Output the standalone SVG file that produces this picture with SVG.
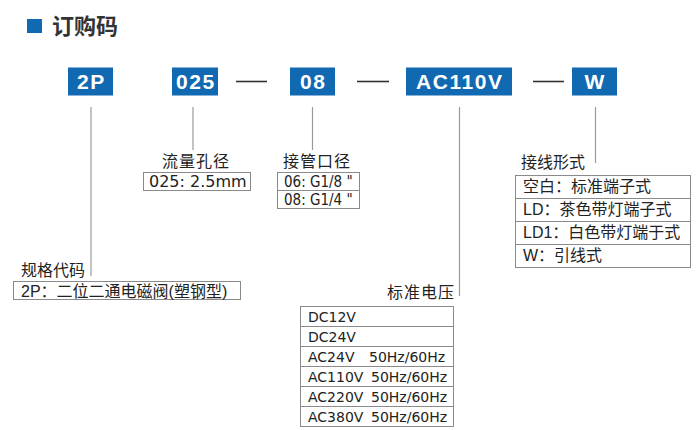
<svg xmlns="http://www.w3.org/2000/svg" width="700" height="430" viewBox="0 0 700 430">
<style>
.bg{fill:#fff}
.code rect{fill:#1169b2}
.code text{fill:#fff;font-family:"Liberation Sans",Arial,sans-serif;font-weight:bold;font-size:21px;letter-spacing:1.6px;text-anchor:middle}
.lead{stroke:#9a9a9a;stroke-width:1.2;fill:none}
.dash{stroke:#333;stroke-width:1.6}
.box{fill:#fff;stroke:#8a8a8a;stroke-width:1}
.lbl{fill:#222;font-family:"Noto Sans CJK SC","Noto Sans",sans-serif;font-size:16px}
.opt{fill:#222;font-family:"Liberation Sans","Noto Sans CJK SC",sans-serif;font-size:16px}
.num{fill:#222;font-family:"DejaVu Sans",sans-serif;font-size:16px}
.port{fill:#222;font-family:"DejaVu Sans Condensed","DejaVu Sans",sans-serif;font-stretch:condensed;font-size:15px}
.volt{fill:#222;font-family:"DejaVu Sans",sans-serif;font-size:14px}
</style>
<rect class="bg" x="0" y="0" width="700" height="430"/>
<g id="title">
<rect x="27" y="19" width="15" height="14" fill="#1169b2"/>
<text x="52" y="34" fill="#333" font-family="'Noto Sans CJK SC',sans-serif" font-size="22" font-weight="bold">订购码</text>
</g>
<g id="connectors">
<line class="dash" x1="236" y1="81.5" x2="267" y2="81.5"/>
<line class="dash" x1="357" y1="81.5" x2="389" y2="81.5"/>
<line class="dash" x1="533" y1="81.5" x2="564" y2="81.5"/>
<line class="lead" x1="91" y1="107" x2="91" y2="276"/>
<line class="lead" x1="193" y1="107" x2="193" y2="150"/>
<line class="lead" x1="312.5" y1="107" x2="312.5" y2="150"/>
<line class="lead" x1="459.5" y1="107" x2="459.5" y2="296"/>
<line class="lead" x1="595.5" y1="107" x2="595.5" y2="163"/>
</g>
<g id="code-2P" class="code"><rect x="68" y="67.5" width="45" height="28"/><text x="91.5" y="89">2P</text></g>
<g id="code-025" class="code"><rect x="172" y="67.5" width="46" height="28"/><text x="195.8" y="89">025</text></g>
<g id="code-08" class="code"><rect x="290" y="67.5" width="45" height="28"/><text x="313.3" y="89">08</text></g>
<g id="code-AC110V" class="code"><rect x="406" y="67.5" width="106" height="28"/><text x="459.8" y="89">AC110V</text></g>
<g id="code-W" class="code"><rect x="572" y="67.5" width="45" height="28"/><text x="595.3" y="89">W</text></g>
<g id="spec-type">
<text class="lbl" x="21" y="276">规格代码</text>
<rect class="box" x="13.5" y="281.5" width="227" height="18"/>
<text class="opt" x="21" y="297">2P：二位二通电磁阀(塑钢型)</text>
</g>
<g id="spec-orifice">
<text class="lbl" x="162" y="167" letter-spacing="1">流量孔径</text>
<rect class="box" x="143.5" y="172.5" width="107" height="18"/>
<text class="num" x="149" y="187">025: 2.5mm</text>
</g>
<g id="spec-port">
<text class="lbl" x="283" y="167" letter-spacing="1">接管口径</text>
<rect class="box" x="277.5" y="172.5" width="82" height="18"/>
<rect class="box" x="277.5" y="190.5" width="82" height="18"/>
<text class="port" x="284" y="187">06: G1/8 "</text>
<text class="port" x="284" y="205">08: G1/4 "</text>
</g>
<g id="spec-voltage">
<text class="lbl" x="387" y="298" letter-spacing="1">标准电压</text>
<rect class="box" x="300.5" y="306.5" width="153" height="20"/>
<rect class="box" x="300.5" y="326.5" width="153" height="20"/>
<rect class="box" x="300.5" y="346.5" width="153" height="20"/>
<rect class="box" x="300.5" y="366.5" width="153" height="20"/>
<rect class="box" x="300.5" y="386.5" width="153" height="20"/>
<rect class="box" x="300.5" y="406.5" width="153" height="20"/>
<text class="volt" x="308" y="322">DC12V</text>
<text class="volt" x="308" y="342">DC24V</text>
<text class="volt" x="308" y="362">AC24V<tspan x="369">50Hz/60Hz</tspan></text>
<text class="volt" x="308" y="382">AC110V<tspan x="371">50Hz/60Hz</tspan></text>
<text class="volt" x="308" y="402">AC220V<tspan x="371">50Hz/60Hz</tspan></text>
<text class="volt" x="308" y="422">AC380V<tspan x="371">50Hz/60Hz</tspan></text>
</g>
<g id="spec-wiring">
<text class="lbl" x="521" y="168">接线形式</text>
<rect class="box" x="515.5" y="175.5" width="175" height="23"/>
<rect class="box" x="515.5" y="198.5" width="175" height="23"/>
<rect class="box" x="515.5" y="221.5" width="175" height="23"/>
<rect class="box" x="515.5" y="244.5" width="175" height="23"/>
<text class="opt" x="523" y="192">空白：标准端子式</text>
<text class="opt" x="523" y="215">LD：茶色带灯端子式</text>
<text class="opt" x="523" y="238">LD1：白色带灯端于式</text>
<text class="opt" x="523" y="261">W：引线式</text>
</g>
</svg>
